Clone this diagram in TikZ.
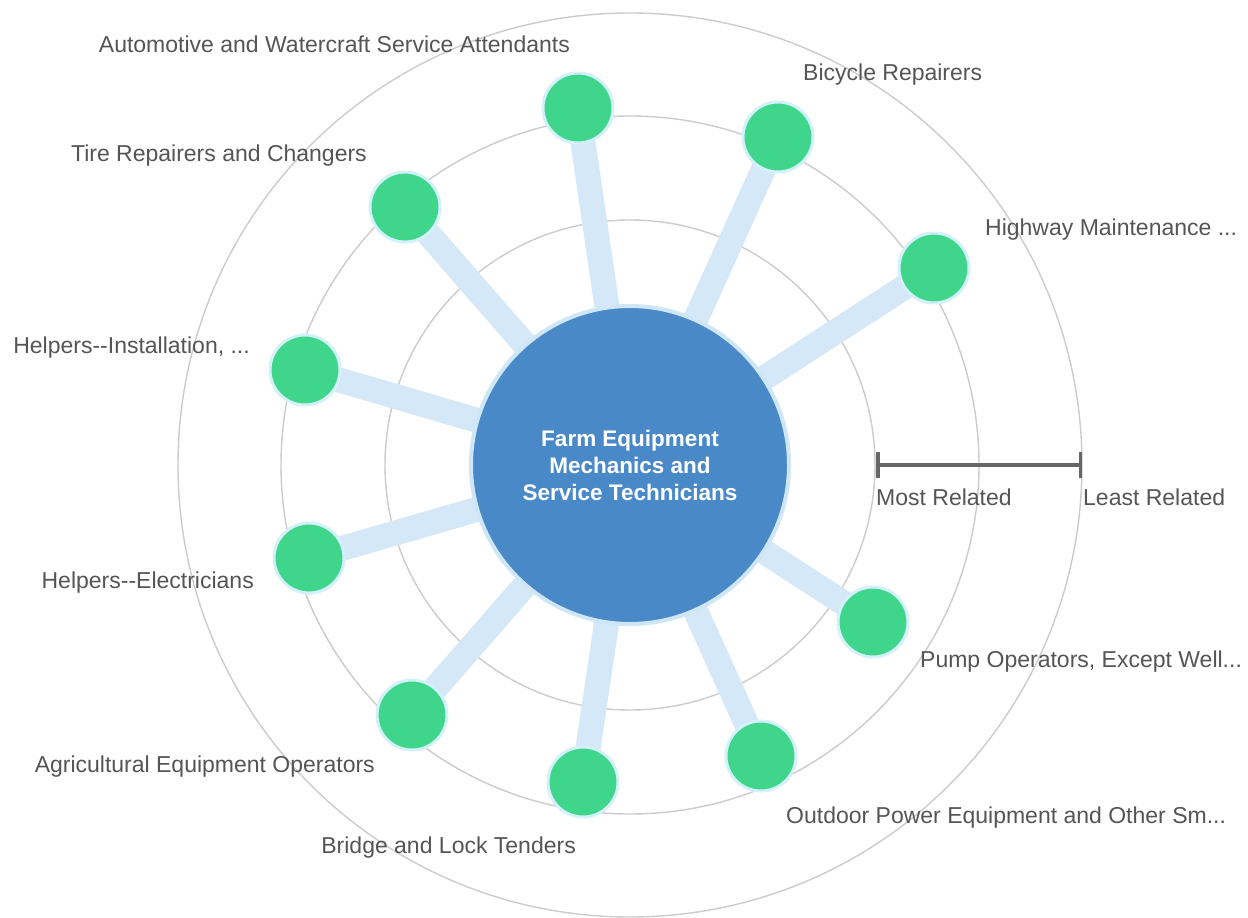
\documentclass[tikz,border=0pt]{standalone}
\usepackage{fontspec}
\setmainfont{Liberation Sans}
\usetikzlibrary{arrows.meta}
\pgfdeclarelayer{bg}
\pgfsetlayers{bg,main}
\definecolor{ringgray}{HTML}{CCCCCC}
\definecolor{spokeblue}{HTML}{D4E8F7}
\definecolor{mainblue}{HTML}{4A89C8}
\definecolor{mainrim}{HTML}{CFE6F7}
\definecolor{nodegreen}{HTML}{3FD68C}
\definecolor{greenrim}{HTML}{D3F1FA}
\definecolor{labelgray}{HTML}{555555}
\definecolor{bargray}{HTML}{666666}
\tikzset{
  ring/.style={draw=ringgray, line width=1.4pt},
  spoke/.style={draw=spokeblue, line width=25pt},
  centre/.style={circle, fill=mainblue, draw=mainrim, line width=4pt, minimum size=318pt, inner sep=0pt,
    text=white, align=center, font=\fontsize{22.5}{27}\selectfont\bfseries},
  job/.style={circle, fill=nodegreen, draw=greenrim, line width=3pt, minimum size=70pt, inner sep=0pt},
  lbl/.style={text=labelgray, font=\fontsize{23}{26}\selectfont, inner sep=0pt},
  scalebar/.style={draw=bargray, line width=3.5pt, {Bar[width=26pt,line width=3.5pt]}-{Bar[width=26pt,line width=3.5pt]}},
}
\begin{document}
\begin{tikzpicture}[x=1pt,y=-1pt]
\useasboundingbox (0,0) rectangle (1248,918);
\node[centre] (c) at (630,465) {Farm Equipment\\Mechanics and\\Service Technicians};
\node[job] (auto) at (578,108) {};
\node[job] (bike) at (778,137) {};
\node[job] (tire) at (405,207) {};
\node[job] (hwy) at (934,268) {};
\node[job] (inst) at (305,370) {};
\node[job] (elec) at (309,558) {};
\node[job] (pump) at (873,622) {};
\node[job] (agri) at (412,715) {};
\node[job] (brdg) at (583,782) {};
\node[job] (outd) at (761,756) {};
\begin{pgfonlayer}{bg}
\fill[white] (0,0) rectangle (1248,918);
\draw[ring] (c.center) circle[radius=245pt];
\draw[ring] (c.center) circle[radius=349pt];
\draw[ring] (c.center) circle[radius=452pt];
\foreach \n in {auto,bike,tire,hwy,inst,elec,pump,agri,brdg,outd}
  \draw[spoke] (c.center) -- (\n.center);
\end{pgfonlayer}
\node[lbl, anchor=east] (lauto) at (570,44) {Automotive and Watercraft Service Attendants};
\node[lbl, anchor=west] (lbike) at (803,75) {Bicycle Repairers};
\node[lbl, anchor=east] (ltire) at (367,156) {Tire Repairers and Changers};
\node[lbl, anchor=west] (lhwy) at (985,230) {Highway Maintenance ...};
\node[lbl, anchor=east] (linst) at (250,348) {Helpers-{}-Installation, ...};
\node[lbl, anchor=east] (lelec) at (254,583) {Helpers-{}-Electricians};
\node[lbl, anchor=west] (lpump) at (920,662) {Pump Operators, Except Well...};
\node[lbl, anchor=east] (lagri) at (375,767) {Agricultural Equipment Operators};
\node[lbl, anchor=east] (lbrdg) at (576,848) {Bridge and Lock Tenders};
\node[lbl, anchor=west] (loutd) at (786,818) {Outdoor Power Equipment and Other Sm...};
\coordinate (most) at (876,465);
\coordinate (least) at (1082,465);
\draw[scalebar] (most) -- (least);
\node[lbl, anchor=west] (lmost) at (876,497) {Most Related};
\node[lbl, anchor=west] (lleast) at (1083,497) {Least Related};
\end{tikzpicture}
\end{document}
